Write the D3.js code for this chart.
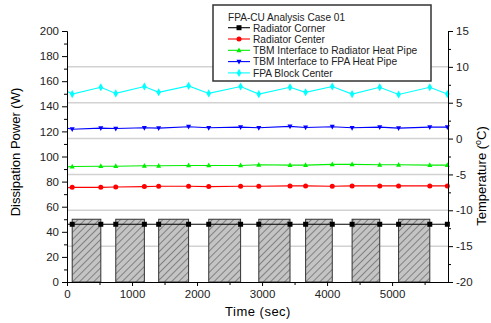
<!DOCTYPE html>
<html>
<head>
<meta charset="utf-8">
<script src="https://cdn.jsdelivr.net/npm/d3@7"></script>
<style>
  body { margin: 0; background: #fff; }
  svg { display: block; font-family: Arial, "Liberation Sans", sans-serif; }
  .axis text { font-size: 11.5px; fill: #222; font-family: Arial, "Liberation Sans", sans-serif; }
  .axis path, .axis line { stroke: #000; stroke-width: 1; }
</style>
</head>
<body>
<div class="chart-box"></div>
<script>
// time points (sec) where temperatures were sampled
var times = [10, 80, 520, 750, 1190, 1410, 1870, 2180, 2670, 2950, 3430, 3670, 4080, 4385, 4810, 5100, 5580, 5850];

// temperatures (deg C)
var radiatorCorner = [-11.95, -11.95, -11.95, -11.95, -11.95, -11.95, -11.95, -11.95, -11.95, -11.95, -11.95, -11.95, -11.95, -11.95, -11.95, -11.95, -11.95, -11.95];
var radiatorCenter = [-6.85, -6.8, -6.8, -6.75, -6.7, -6.65, -6.65, -6.7, -6.65, -6.65, -6.6, -6.6, -6.65, -6.6, -6.6, -6.6, -6.6, -6.6];
var tbmRadiator = [-3.95, -3.9, -3.85, -3.85, -3.8, -3.8, -3.75, -3.75, -3.75, -3.65, -3.7, -3.7, -3.6, -3.6, -3.65, -3.65, -3.7, -3.7];
var tbmFpa = [1.45, 1.3, 1.45, 1.4, 1.5, 1.45, 1.65, 1.5, 1.6, 1.5, 1.7, 1.55, 1.65, 1.5, 1.6, 1.45, 1.6, 1.6];
var fpaBlock = [6.55, 6.2, 7.15, 6.3, 7.25, 6.45, 7.35, 6.3, 7.25, 6.2, 7.15, 6.45, 7.25, 6.2, 7.15, 6.15, 7.15, 6.2];

// heater dissipation bars (W)
var heaterOn = [80, 750, 1410, 2180, 2950, 3670, 4385, 5100];
var heaterOff = [520, 1190, 1870, 2670, 3430, 4080, 4810, 5580];
var heaterPower = [50, 50, 50, 50, 50, 50, 50, 50];

var seriesNames = ["Radiator Corner", "Radiator Center", "TBM Interface to Radiator Heat Pipe", "TBM Interface to FPA Heat Pipe", "FPA Block Center"];
var seriesColors = ["#000000", "#ff0000", "#00ee00", "#0000ff", "#00ffff"];
var seriesMarkers = ["square", "circle", "up", "down", "diamond"];
var seriesValues = [radiatorCorner, radiatorCenter, tbmRadiator, tbmFpa, fpaBlock];

var powerTicks = d3.range(0, 201, 20);
var tempTicks = d3.range(-20, 16, 5);
var timeTicks = d3.range(0, 5001, 1000);

var width = 491, height = 323;

var svg = d3.select(".chart-box").append("svg")
    .attr("width", width)
    .attr("height", height);

var x = d3.scaleLinear().domain([0, 5860]).range([67, 448]);
var yL = d3.scaleLinear().domain([0, 200]).range([282, 31]);
var yR = d3.scaleLinear().domain([-20, 15]).range([282, 31]);

// hatch pattern for the power bars
var pat = svg.append("defs").append("pattern")
    .attr("id", "hatch")
    .attr("patternUnits", "userSpaceOnUse")
    .attr("width", 5)
    .attr("height", 5)
    .attr("patternTransform", "rotate(45)");
pat.append("rect").attr("width", 5).attr("height", 5).attr("fill", "#c4c4c4");
pat.append("line")
    .attr("x1", 0).attr("y1", 0).attr("x2", 0).attr("y2", 5)
    .attr("stroke", "#000").attr("stroke-width", 0.7);

// gridlines at temperature major ticks
svg.append("g").selectAll("line")
    .data(tempTicks.filter(function(d) { return d > -20 && d < 15; }))
  .enter().append("line")
    .attr("x1", x(0)).attr("x2", x.range()[1])
    .attr("y1", function(d) { return yR(d); })
    .attr("y2", function(d) { return yR(d); })
    .attr("stroke", "#d2d2d2")
    .attr("stroke-width", 1.5);

// power bars
svg.append("g").selectAll(".bar")
    .data(heaterOn)
  .enter().append("rect")
    .attr("class", "bar")
    .attr("x", function(d) { return x(d); })
    .attr("width", function(d, i) { return x(heaterOff[i]) - x(d); })
    .attr("y", function(d, i) { return yL(heaterPower[i]); })
    .attr("height", function(d, i) { return yL(0) - yL(heaterPower[i]); })
    .attr("fill", "url(#hatch)")
    .attr("stroke", "#333")
    .attr("stroke-width", 1);

function markerPath(type, size) {
  var s = size;
  if (type === "square") return d3.symbol(d3.symbolSquare, s * s)();
  if (type === "circle") return d3.symbol(d3.symbolCircle, Math.PI * s * s / 4)();
  if (type === "diamond") return d3.symbol(d3.symbolDiamond, s * s * 0.75)();
  var h = s * 0.95;
  if (type === "up") return "M0," + (-h * 0.6) + "L" + (s / 2) + "," + (h * 0.4) + "L" + (-s / 2) + "," + (h * 0.4) + "Z";
  return "M0," + (h * 0.6) + "L" + (s / 2) + "," + (-h * 0.4) + "L" + (-s / 2) + "," + (-h * 0.4) + "Z";
}

var line = d3.line()
    .x(function(d) { return x(d[0]); })
    .y(function(d) { return yR(d[1]); });

seriesValues.forEach(function(vals, k) {
  var pts = times.map(function(t, i) { return [t, vals[i]]; });
  var g = svg.append("g");
  g.append("path")
      .datum(pts)
      .attr("d", line)
      .attr("fill", "none")
      .attr("stroke", seriesColors[k])
      .attr("stroke-width", 1.1);
  g.selectAll("path.mk")
      .data(pts.slice(1))
    .enter().append("path")
      .attr("class", "mk")
      .attr("transform", function(d) { return "translate(" + x(d[0]) + "," + yR(d[1]) + ")"; })
      .attr("d", markerPath(seriesMarkers[k], 5))
      .attr("fill", seriesColors[k]);
});

// axes
svg.append("g")
    .attr("class", "axis")
    .attr("transform", "translate(" + x(0) + ",0)")
    .call(d3.axisLeft(yL).tickValues(powerTicks).tickSize(5).tickSizeOuter(0).tickPadding(3));
svg.append("g")
    .attr("class", "axis")
    .attr("transform", "translate(" + x(0) + ",0)")
    .call(d3.axisLeft(yL).tickValues(d3.range(10, 200, 20)).tickSize(3).tickSizeOuter(0).tickFormat(""));

svg.append("g")
    .attr("class", "axis")
    .attr("transform", "translate(" + x.range()[1] + ",0)")
    .call(d3.axisRight(yR).tickValues(tempTicks).tickSize(5).tickSizeOuter(0).tickPadding(3)
      .tickFormat(function(d) { return String(d); }));
svg.append("g")
    .attr("class", "axis")
    .attr("transform", "translate(" + x.range()[1] + ",0)")
    .call(d3.axisRight(yR).tickValues(d3.range(-17.5, 15, 5)).tickSize(3).tickSizeOuter(0).tickFormat(""));

svg.append("g")
    .attr("class", "axis")
    .attr("transform", "translate(0," + yL(0) + ")")
    .call(d3.axisBottom(x).tickValues(timeTicks).tickSize(4).tickSizeOuter(0).tickPadding(4)
      .tickFormat(function(d) { return String(d); }));
svg.append("g")
    .attr("class", "axis")
    .attr("transform", "translate(0," + yL(0) + ")")
    .call(d3.axisBottom(x).tickValues(d3.range(500, 5860, 1000)).tickSize(3).tickSizeOuter(0).tickFormat(""));

// axis titles
svg.append("text")
    .attr("x", 258).attr("y", 316)
    .attr("text-anchor", "middle")
    .style("font-size", "13px")
    .style("letter-spacing", "0.5px")
    .text("Time (sec)");

svg.append("text")
    .attr("transform", "translate(20,152) rotate(-90)")
    .attr("text-anchor", "middle")
    .style("font-size", "13px")
    .text("Dissipation Power (W)");

var tt = svg.append("text")
    .attr("transform", "translate(486,176) rotate(-90)")
    .attr("text-anchor", "middle")
    .style("font-size", "13px");
tt.append("tspan").text("Temperature (");
tt.append("tspan").attr("dy", -5).style("font-size", "9px").text("o");
tt.append("tspan").attr("dy", 5).text("C)");

// legend
var lg = svg.append("g");
lg.append("rect")
    .attr("x", 213).attr("y", 5)
    .attr("width", 218).attr("height", 76)
    .attr("fill", "#fff")
    .attr("stroke", "#333")
    .attr("stroke-width", 1.5);
lg.append("text")
    .attr("x", 228).attr("y", 20.5)
    .style("font-size", "10.1px")
    .style("fill", "#222")
    .text("FPA-CU Analysis Case 01");
seriesNames.forEach(function(name, k) {
  var cy = 27.7 + k * 11.3;
  lg.append("line")
      .attr("x1", 228).attr("x2", 250)
      .attr("y1", cy).attr("y2", cy)
      .attr("stroke", seriesColors[k])
      .attr("stroke-width", 1.1);
  lg.append("path")
      .attr("transform", "translate(239," + cy + ")")
      .attr("d", markerPath(seriesMarkers[k], 5))
      .attr("fill", seriesColors[k]);
  lg.append("text")
      .attr("x", 253).attr("y", cy + 3.8)
      .style("font-size", "10.2px")
      .style("fill", "#222")
      .text(name);
});
</script>
</body>
</html>
